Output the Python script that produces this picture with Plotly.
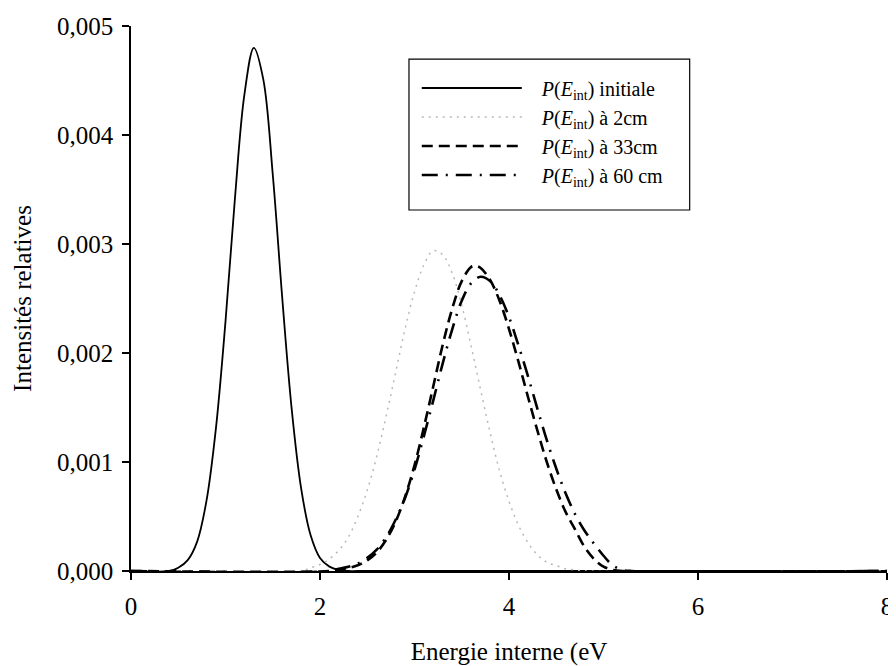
import plotly.graph_objects as go

# ---- data ----
x_initiale = [0.0, 0.4, 0.5, 0.6, 0.7, 0.8, 0.9, 1.0, 1.1, 1.2, 1.3, 1.4, 1.5, 1.6, 1.7, 1.8, 1.9, 2.0, 2.1, 2.2, 2.3, 2.4, 8.0]
y_initiale = [0.0, 0.0, 0.00003, 0.0001, 0.00027, 0.00065, 0.00132, 0.00229, 0.00342, 0.00437, 0.0048, 0.00451, 0.00364, 0.00251, 0.00149, 0.00076, 0.00033, 0.00012, 0.00004, 0.00001, 0.0, 0.0, 0.0]

x_2cm = [0.0, 1.8, 1.9, 2.0, 2.1, 2.2, 2.3, 2.4, 2.5, 2.6, 2.7, 2.8, 2.9, 3.0, 3.1, 3.2, 3.3, 3.4, 3.5, 3.6, 3.7, 3.8, 3.9, 4.0, 4.1, 4.2, 4.3, 4.4, 4.5, 4.6, 4.7, 4.8, 8.0]
y_2cm = [0.0, 0.0, 0.00003, 0.00006, 0.00011, 0.00019, 0.00031, 0.0005, 0.00074, 0.00105, 0.00142, 0.00182, 0.00222, 0.00256, 0.00281, 0.00294, 0.0029, 0.00273, 0.00244, 0.00206, 0.00166, 0.00127, 0.00092, 0.00064, 0.00042, 0.00026, 0.00015, 0.00008, 0.00005, 0.00002, 0.00001, 0.0, 0.0]

x_33cm = [0.0, 2.1, 2.2, 2.3, 2.4, 2.5, 2.6, 2.7, 2.8, 2.9, 3.0, 3.1, 3.2, 3.3, 3.4, 3.5, 3.6, 3.64, 3.7, 3.8, 3.9, 4.0, 4.1, 4.2, 4.3, 4.4, 4.5, 4.6, 4.7, 4.8, 4.9, 5.0, 5.1, 5.2, 8.0]
y_33cm = [0.0, 0.0, 0.000013, 0.000027, 0.000053, 0.000097, 0.00017, 0.000286, 0.000452, 0.00068, 0.00097, 0.00132, 0.0017, 0.00208, 0.00241, 0.00266, 0.00279, 0.0028, 0.00278, 0.00267, 0.00248, 0.00222, 0.00192, 0.0016, 0.00129, 0.001, 0.00075, 0.00054, 0.00038, 0.00022, 0.00011, 0.00004, 0.00001, 0.0, 0.0]

x_60cm = [0.0, 2.1, 2.2, 2.3, 2.4, 2.5, 2.6, 2.7, 2.8, 2.9, 3.0, 3.1, 3.2, 3.3, 3.4, 3.5, 3.6, 3.7, 3.8, 3.9, 4.0, 4.1, 4.2, 4.3, 4.4, 4.5, 4.6, 4.7, 4.8, 4.9, 5.0, 5.1, 5.2, 5.3, 8.0]
y_60cm = [0.0, 0.0, 0.00002, 0.000039, 0.000069, 0.00012, 0.000196, 0.00031, 0.00047, 0.00067, 0.00093, 0.00124, 0.00157, 0.00191, 0.00222, 0.00248, 0.00264, 0.0027, 0.00266, 0.00253, 0.00233, 0.00207, 0.00179, 0.00149, 0.0012, 0.00094, 0.00071, 0.00052, 0.00037, 0.00025, 0.00014, 0.00005, 0.00001, 0.0, 0.0]

labels = [
    "<i>P</i>(<i>E</i><sub>int</sub>) initiale",
    "<i>P</i>(<i>E</i><sub>int</sub>) à 2cm",
    "<i>P</i>(<i>E</i><sub>int</sub>) à 33cm",
    "<i>P</i>(<i>E</i><sub>int</sub>) à 60 cm",
]
x_ticks = [0, 2, 4, 6, 8]
y_ticks = [0.0, 0.001, 0.002, 0.003, 0.004, 0.005]
x_title = "Energie interne (eV"
y_title = "Intensités relatives"

FONT = "Liberation Serif, Times New Roman, serif"
PAD = "&nbsp;&nbsp;&nbsp;"

fig = go.Figure()
fig.add_trace(go.Scatter(x=x_initiale, y=y_initiale, mode="lines", name=PAD + labels[0],
                         line=dict(color="black", width=1.8, shape="spline", smoothing=1)))
fig.add_trace(go.Scatter(x=x_2cm, y=y_2cm, mode="lines", name=PAD + labels[1],
                         line=dict(color="#b8b8b8", width=1.5, dash="2px,5px", shape="spline", smoothing=1)))
fig.add_trace(go.Scatter(x=x_33cm, y=y_33cm, mode="lines", name=PAD + labels[2],
                         line=dict(color="black", width=2.6, dash="11px,6px", shape="spline", smoothing=1)))
fig.add_trace(go.Scatter(x=x_60cm, y=y_60cm, mode="lines", name=PAD + labels[3],
                         line=dict(color="black", width=2.6, dash="16px,8px,2px,8px", shape="spline", smoothing=1)))

# the page body adds an 8px margin, so the figure is 8px smaller than the window
fig.update_layout(
    width=888, height=658,
    margin=dict(l=123, r=9, t=18, b=95),
    plot_bgcolor="white", paper_bgcolor="white",
    separators=", ",
    font=dict(family=FONT, size=25, color="black"),
    showlegend=True,
    legend=dict(
        x=0.378, y=0.922, xanchor="left", yanchor="top",
        bgcolor="rgba(0,0,0,0)", borderwidth=0,
        font=dict(family=FONT, size=20, color="black"),
        itemwidth=100, tracegroupgap=0,
    ),
    shapes=[dict(type="rect", xref="paper", yref="paper",
                 x0=0.3677, x1=0.739, y0=0.6624, y1=0.9394,
                 line=dict(color="black", width=1.2), fillcolor="rgba(0,0,0,0)")],
)
fig.update_xaxes(
    range=[0, 8], tickvals=x_ticks, ticktext=[str(v) for v in x_ticks],
    showline=True, linecolor="black", linewidth=1.5, mirror=False,
    ticks="outside", ticklen=7, tickcolor="black", tickwidth=1.5,
    showgrid=False, zeroline=False, automargin=False,
    ticklabelstandoff=5, ticklabeloverflow="allow",
    title=dict(text=x_title, standoff=25, font=dict(family=FONT, size=25)),
)
fig.update_yaxes(
    range=[0, 0.005], tickvals=y_ticks, tickformat=".3f",
    showline=True, linecolor="black", linewidth=1.5,
    ticks="outside", ticklen=7, tickcolor="black", tickwidth=1.5,
    showgrid=False, zeroline=False, automargin=False,
    ticklabelstandoff=4,
    title=dict(text=y_title, standoff=18, font=dict(family=FONT, size=25)),
)

fig.write_html("out.html")
